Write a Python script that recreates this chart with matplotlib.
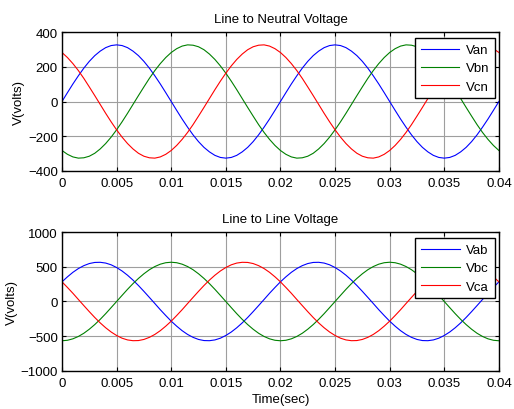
import matplotlib
matplotlib.use("Agg")
import matplotlib.pyplot as plt

plt.rcParams["font.family"] = ["Liberation Sans", "DejaVu Sans"]
plt.rcParams["font.size"] = 9.5

# time samples (s), every 0.5 ms
t = [i * 0.0005 for i in range(81)]

# line-to-neutral voltages (V)
van = [0, 51, 101, 148, 192, 231, 264, 290, 310, 322,
       326, 322, 310, 290, 264, 231, 192, 148, 101, 51,
       0, -51, -101, -148, -192, -231, -264, -290, -310, -322,
       -326, -322, -310, -290, -264, -231, -192, -148, -101, -51,
       0, 51, 101, 148, 192, 231, 264, 290, 310, 322,
       326, 322, 310, 290, 264, 231, 192, 148, 101, 51,
       0, -51, -101, -148, -192, -231, -264, -290, -310, -322,
       -326, -322, -310, -290, -264, -231, -192, -148, -101, -51, 0]
vbn = [-282, -304, -319, -326, -324, -315, -298, -273, -242, -205,
       -163, -117, -68, -17, 34, 84, 133, 178, 218, 253,
       282, 304, 319, 326, 324, 315, 298, 273, 242, 205,
       163, 117, 68, 17, -34, -84, -133, -178, -218, -253,
       -282, -304, -319, -326, -324, -315, -298, -273, -242, -205,
       -163, -117, -68, -17, 34, 84, 133, 178, 218, 253,
       282, 304, 319, 326, 324, 315, 298, 273, 242, 205,
       163, 117, 68, 17, -34, -84, -133, -178, -218, -253, -282]
vcn = [282, 253, 218, 178, 133, 84, 34, -17, -68, -117,
       -163, -205, -242, -273, -298, -315, -324, -326, -319, -304,
       -282, -253, -218, -178, -133, -84, -34, 17, 68, 117,
       163, 205, 242, 273, 298, 315, 324, 326, 319, 304,
       282, 253, 218, 178, 133, 84, 34, -17, -68, -117,
       -163, -205, -242, -273, -298, -315, -324, -326, -319, -304,
       -282, -253, -218, -178, -133, -84, -34, 17, 68, 117,
       163, 205, 242, 273, 298, 315, 324, 326, 319, 304, 282]

# line-to-line voltages (V)
vab = [283, 355, 420, 474, 516, 546, 562, 564, 553, 528,
       489, 439, 378, 308, 230, 146, 59, -29, -118, -202,
       -283, -355, -420, -474, -516, -546, -562, -564, -553, -528,
       -489, -439, -378, -308, -230, -146, -59, 29, 118, 202,
       283, 355, 420, 474, 516, 546, 562, 564, 553, 528,
       489, 439, 378, 308, 230, 146, 59, -29, -118, -202,
       -283, -355, -420, -474, -516, -546, -562, -564, -553, -528,
       -489, -439, -378, -308, -230, -146, -59, 29, 118, 202, 283]
vbc = [-565, -558, -537, -503, -457, -399, -332, -257, -175, -88,
       0, 88, 175, 257, 332, 399, 457, 503, 537, 558,
       565, 558, 537, 503, 457, 399, 332, 257, 175, 88,
       0, -88, -175, -257, -332, -399, -457, -503, -537, -558,
       -565, -558, -537, -503, -457, -399, -332, -257, -175, -88,
       0, 88, 175, 257, 332, 399, 457, 503, 537, 558,
       565, 558, 537, 503, 457, 399, 332, 257, 175, 88,
       0, -88, -175, -257, -332, -399, -457, -503, -537, -558, -565]
vca = [283, 202, 118, 29, -59, -146, -230, -308, -378, -439,
       -489, -528, -553, -564, -562, -546, -516, -474, -420, -355,
       -283, -202, -118, -29, 59, 146, 230, 308, 378, 439,
       489, 528, 553, 564, 562, 546, 516, 474, 420, 355,
       283, 202, 118, 29, -59, -146, -230, -308, -378, -439,
       -489, -528, -553, -564, -562, -546, -516, -474, -420, -355,
       -283, -202, -118, -29, 59, 146, 230, 308, 378, 439,
       489, 528, 553, 564, 562, 546, 516, 474, 420, 355, 283]

xticks = [0, 0.005, 0.01, 0.015, 0.02, 0.025, 0.03, 0.035, 0.04]
xticklabels = ["0", "0.005", "0.01", "0.015", "0.02", "0.025", "0.03", "0.035", "0.04"]

fig = plt.figure(figsize=(5.14, 4.10), dpi=100)
ax1 = fig.add_axes([0.1206, 0.5805, 0.850, 0.339])
ax2 = fig.add_axes([0.1206, 0.0927, 0.850, 0.339])

colors = ["#0000ff", "#008000", "#ff0000"]


def style(ax, yticks):
    ax.set_xlim(0, 0.04)
    ax.set_xticks(xticks)
    ax.set_xticklabels(xticklabels)
    ax.set_ylim(yticks[0], yticks[-1])
    ax.set_yticks(yticks)
    ax.grid(True, color="0.62", linestyle="-", linewidth=0.8)
    ax.tick_params(direction="in", top=True, right=True, length=3, width=0.8,
                   labelsize=9.5, pad=3, colors="black")
    ax.tick_params(axis="x", pad=4.5)
    for s in ax.spines.values():
        s.set_linewidth(1.0)
    ax.set_ylabel("V(volts)", fontsize=9.5, labelpad=2)


for ax, series, names, title, yticks in [
    (ax1, [van, vbn, vcn], ["Van", "Vbn", "Vcn"], "Line to Neutral Voltage",
     [-400, -200, 0, 200, 400]),
    (ax2, [vab, vbc, vca], ["Vab", "Vbc", "Vca"], "Line to Line Voltage",
     [-1000, -500, 0, 500, 1000]),
]:
    for v, c, n in zip(series, colors, names):
        ax.plot(t, v, color=c, linewidth=0.8, label=n)
    style(ax, yticks)
    ax.set_title(title, fontsize=9.5, pad=7)
    leg = ax.legend(loc="upper right", bbox_to_anchor=(0.991, 0.957),
                    borderaxespad=0, fancybox=False, framealpha=1,
                    edgecolor="black", fontsize=9.5, handlelength=2.9,
                    handletextpad=0.5, borderpad=0.45, labelspacing=0.45)
    leg.get_frame().set_linewidth(1.0)
    for txt in leg.get_texts():
        txt.set_ha("right")

ax2.set_xlabel("Time(sec)", fontsize=9.5, labelpad=3)

fig.savefig("out.png", dpi=100)
